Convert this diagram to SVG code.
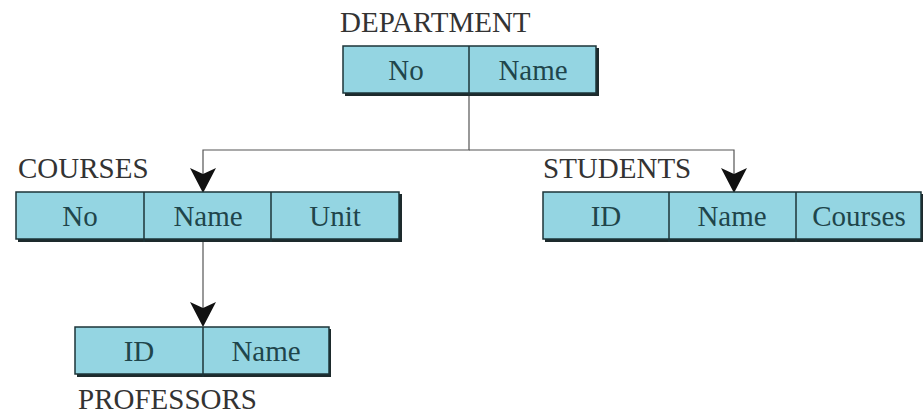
<svg xmlns="http://www.w3.org/2000/svg" width="923" height="415" viewBox="0 0 923 415">
  <style>
    .cell { fill: #94d5e2; stroke: #1d3539; stroke-width: 1.5; }
    .shadow { fill: #1d2a2c; }
    .div { stroke: #1d3539; stroke-width: 1.5; }
    .ctext { font-family: "Liberation Serif", "DejaVu Serif", "Times New Roman", serif; font-size: 29px; fill: #1f454b; text-anchor: middle; }
    .label { font-family: "Liberation Serif", "DejaVu Serif", "Times New Roman", serif; font-size: 29px; fill: #333333; }
    .wire { fill: none; stroke: #555555; stroke-width: 1.2; }
    .head { fill: #111111; }
  </style>

  <rect width="923" height="415" fill="#ffffff"/>

  <g id="connectors">
    <path class="wire" d="M469,95 V150 H203 V190"/>
    <path class="wire" d="M469,150 H734 V190"/>
    <path class="wire" d="M203,242 V325"/>
    <path class="head" d="M190,168 L203,174 L216,168 L203,193 Z"/>
    <path class="head" d="M721,168 L734,174 L747,168 L734,193 Z"/>
    <path class="head" d="M190,302 L203,308 L216,302 L203,327 Z"/>
  </g>

  <g id="department">
    <text class="label" x="340" y="32">DEPARTMENT</text>
    <rect class="shadow" x="345" y="48" width="254" height="48"/>
    <rect class="cell" x="343" y="46" width="253" height="47"/>
    <line class="div" x1="469" y1="46" x2="469" y2="95"/>
    <text class="ctext" x="406" y="80">No</text>
    <text class="ctext" x="533" y="80">Name</text>
  </g>

  <g id="courses">
    <text class="label" x="18" y="178">COURSES</text>
    <rect class="shadow" x="18" y="194" width="384" height="48"/>
    <rect class="cell" x="16" y="192" width="383" height="47"/>
    <line class="div" x1="144" y1="192" x2="144" y2="242"/>
    <line class="div" x1="271" y1="192" x2="271" y2="242"/>
    <text class="ctext" x="80" y="226">No</text>
    <text class="ctext" x="208" y="226">Name</text>
    <text class="ctext" x="335" y="226">Unit</text>
  </g>

  <g id="students">
    <text class="label" x="543" y="178">STUDENTS</text>
    <rect class="shadow" x="545" y="194" width="378" height="48"/>
    <rect class="cell" x="543" y="192" width="378" height="47"/>
    <line class="div" x1="669" y1="192" x2="669" y2="242"/>
    <line class="div" x1="796" y1="192" x2="796" y2="242"/>
    <text class="ctext" x="606" y="226">ID</text>
    <text class="ctext" x="732" y="226">Name</text>
    <text class="ctext" x="859" y="226">Courses</text>
  </g>

  <g id="professors">
    <rect class="shadow" x="77" y="329" width="254" height="48"/>
    <rect class="cell" x="75" y="327" width="254" height="47"/>
    <line class="div" x1="203" y1="327" x2="203" y2="377"/>
    <text class="ctext" x="139" y="361">ID</text>
    <text class="ctext" x="266" y="361">Name</text>
    <text class="label" x="78" y="409">PROFESSORS</text>
  </g>
</svg>
